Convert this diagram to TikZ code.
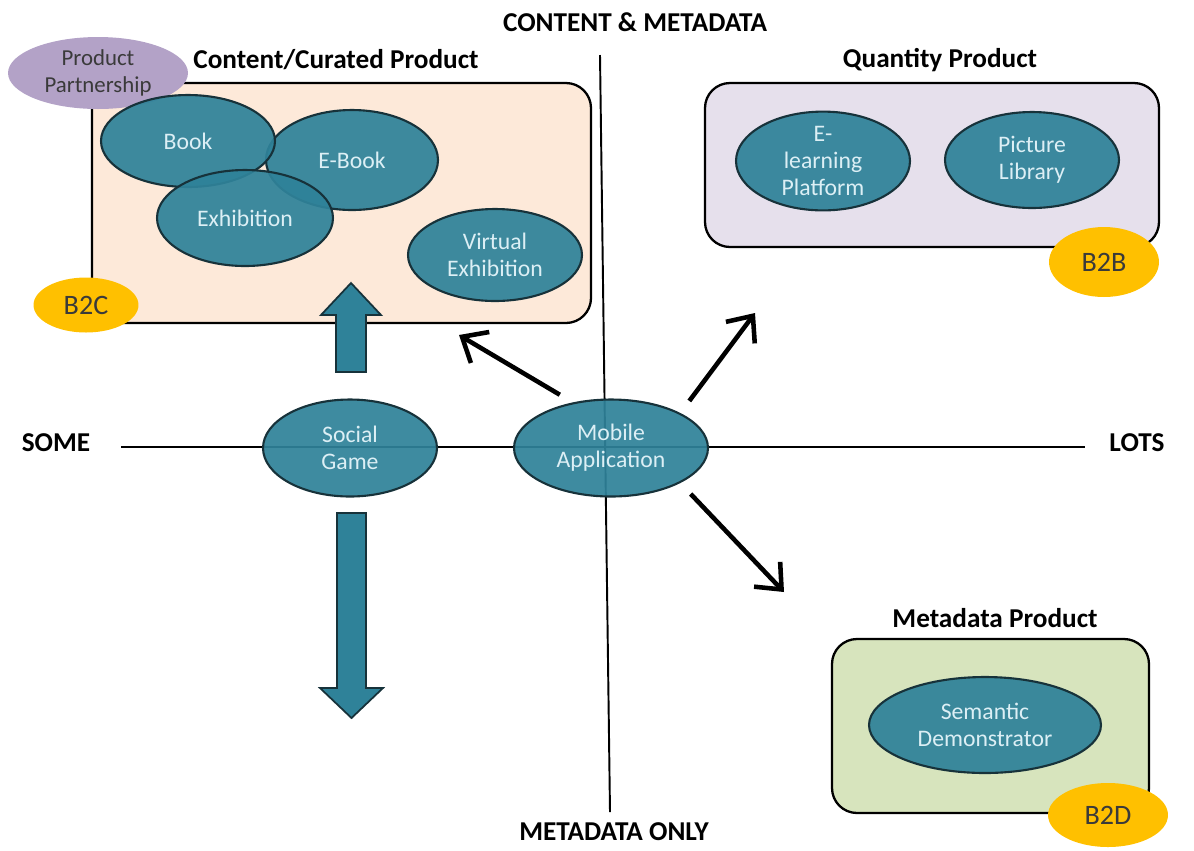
\documentclass[tikz,border=0pt]{standalone}
\usepackage{fontspec}
\setmainfont{Carlito}
\usetikzlibrary{shapes.geometric,arrows.meta}

\definecolor{tealfill}{HTML}{2F8299}
\definecolor{blobline}{HTML}{17323A}
\definecolor{blobtext}{HTML}{DCEFF5}
\definecolor{peach}{HTML}{FDE9D9}
\definecolor{lilac}{HTML}{E6E0EC}
\definecolor{olive}{HTML}{D7E4BD}
\definecolor{partnerfill}{HTML}{B3A2C7}
\definecolor{gold}{HTML}{FFC000}
\definecolor{darktext}{HTML}{3A3A3A}

\begin{document}
\begin{tikzpicture}[x=0.02cm, y=-0.02cm,
    blob/.style={ellipse, draw=blobline, line width=1.2pt, fill=tealfill,
        fill opacity=0.93, text opacity=1, text=blobtext, inner sep=0pt,
        minimum width=3.48cm, minimum height=1.92cm, align=center,
        font=\fontsize{13.5}{15.5}\selectfont},
    market/.style={ellipse, fill=gold, inner sep=0pt, text=darktext,
        font=\fontsize{16}{18}\selectfont},
    area/.style={draw, line width=1.3pt, rounded corners=0.5cm},
    heading/.style={font=\bfseries\fontsize{15.5}{18}\selectfont},
    axis/.style={line width=1.1pt},
    pointer/.style={line width=2.6pt, shorten <=0.3cm,
        -{Straight Barb[length=0.42cm, width=0.72cm]}},
    bigarrow/.style={fill=tealfill, draw=blobline, line width=1pt}
]
    \useasboundingbox (0,0) rectangle (1194,850);

    % Draw the two axes with their end labels
    \node[heading] (contentmeta) at (635,22) {CONTENT \& METADATA};
    \node[heading] (metaonly) at (614,832) {METADATA ONLY};
    \node[heading] (some) at (56,443) {SOME};
    \node[heading] (lots) at (1137,443) {LOTS};
    \coordinate (axtop) at (600,55);
    \coordinate (axbottom) at (610,812);
    \coordinate (axleft) at (121,447);
    \coordinate (axright) at (1085,447);
    \draw[axis] (axtop) -- (axbottom);
    \draw[axis] (axleft) -- (axright);

    % Draw the three product areas
    \draw[area, fill=peach] (92,83) rectangle (591,323);
    \draw[area, fill=lilac] (705,83) rectangle (1159,247);
    \draw[area, fill=olive] (832,639) rectangle (1149,813);
    \node[heading] (curated) at (336,60) {Content/Curated Product};
    \node[heading] (quantity) at (940,60) {Quantity Product};
    \node[heading] (metaprod) at (995,618) {Metadata Product};

    % Draw the big arrows above and below the social game
    \draw[bigarrow] (336,372) -- (336,315) -- (321,315) -- (351,283)
        -- (381,315) -- (366,315) -- (366,372) -- cycle;
    \draw[bigarrow] (337,513) -- (337,688) -- (320,688) -- (351.5,718)
        -- (383,688) -- (366,688) -- (366,513) -- cycle;

    % Draw the content/curated products
    \node[ellipse, fill=partnerfill, inner sep=0pt, minimum width=3.6cm,
        minimum height=1.44cm, align=center, text=darktext,
        font=\fontsize{13}{15}\selectfont] (partner) at (98,73) {Product\\Partnership};
    \node[blob, minimum width=3.44cm, minimum height=2cm] (ebook) at (352,160) {E-Book};
    \node[blob, minimum height=1.84cm] (book) at (188,141) {Book};
    \node[blob, minimum width=3.52cm] (exhibition) at (245,218) {Exhibition};
    \node[blob, minimum height=1.84cm] (virtual) at (495,255) {Virtual\\Exhibition};
    \node[market, minimum width=2.1cm, minimum height=1.1cm] (b2c) at (86,305) {B2C};

    % Draw the quantity products
    \node[blob] (elearn) at (823,161) {E-\\learning\\Platform};
    \node[blob] (piclib) at (1032,160) {Picture\\Library};
    \node[market, minimum width=2.2cm, minimum height=1.4cm] (b2b) at (1104,262) {B2B};

    % Draw the metadata product
    \node[blob, minimum width=4.64cm] (semantic) at (985,725) {Semantic\\Demonstrator};
    \node[market, minimum width=2.4cm, minimum height=1.28cm] (b2d) at (1108,815) {B2D};

    % Draw the two ideas on the axis
    \node[blob, minimum height=1.94cm] (social) at (350,448) {Social\\Game};
    \node[blob, minimum width=3.88cm, minimum height=1.94cm] (mobile) at (611,448) {Mobile\\Application};

    % Draw the arrows from the mobile application
    \coordinate (tocurated) at (459,335);
    \coordinate (toquantity) at (755,313);
    \coordinate (tometa) at (784,592);
    \draw[pointer] (mobile.130) -- (tocurated);
    \draw[pointer] (mobile.north east) -- (toquantity);
    \draw[pointer] (mobile.south east) -- (tometa);
\end{tikzpicture}
\end{document}
